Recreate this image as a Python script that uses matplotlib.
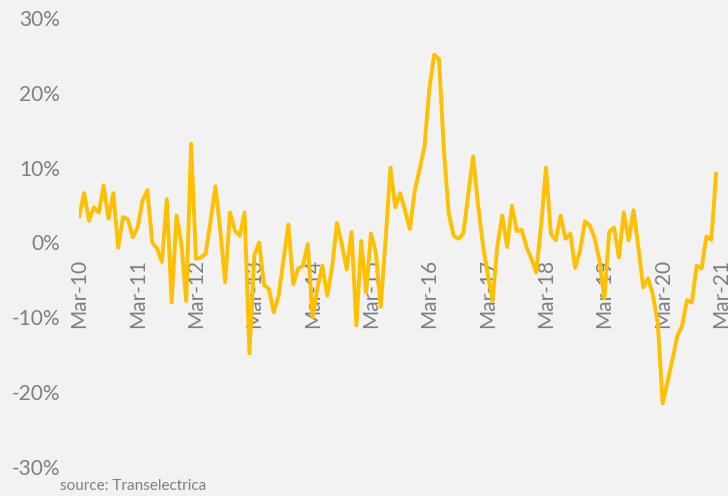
import matplotlib
matplotlib.use("Agg")
import matplotlib.pyplot as plt
import pandas as pd

# Monthly change (%), Mar-2010 .. Feb-2021
values = [
    3.5, 6.6, 2.9, 4.7, 4.0, 7.6, 3.2, 6.6, -0.7, 3.4, 3.1, 0.7,
    2.0, 5.6, 7.0, 0.0, -0.8, -2.6, 5.8, -8.0, 3.6, -0.2, -7.8, 13.2,
    -2.2, -2.0, -1.5, 2.9, 7.5, 1.6, -5.3, 4.0, 1.6, 0.9, 4.0, -14.8,
    -1.7, 0.0, -5.7, -6.2, -9.3, -7.1, -2.4, 2.4, -5.6, -3.5, -3.1, -0.2,
    -10.0, -6.0, -3.1, -7.1, -3.3, 2.6, -0.2, -3.6, 1.4, -11.1, 0.2, -6.7,
    1.2, -1.3, -8.6, 0.3, 10.0, 4.7, 6.6, 4.3, 1.8, 6.9, 9.8, 12.8,
    20.5, 25.1, 24.5, 12.3, 3.9, 0.9, 0.5, 1.2, 6.3, 11.5, 5.2, -0.2,
    -4.2, -7.8, -0.4, 3.6, -0.6, 4.9, 1.5, 1.7, -0.6, -2.2, -4.0, 2.3,
    10.0, 1.2, 0.3, 3.6, 0.5, 1.2, -3.4, -1.1, 2.8, 2.3, 0.6, -2.4,
    -7.5, 1.4, 2.0, -2.0, 4.0, 0.3, 4.3, -0.6, -6.0, -4.8, -7.0, -10.8,
    -21.5, -18.6, -15.7, -12.5, -11.1, -7.7, -8.0, -3.1, -3.5, 0.8, 0.4, 9.2,
]
months = pd.date_range("2010-03-01", periods=len(values), freq="MS")
tick_dates = pd.date_range("2010-03-01", "2021-03-01", freq="12MS")
tick_labels = [d.strftime("%b-%y") for d in tick_dates]
y_ticks = [-30, -20, -10, 0, 10, 20, 30]
y_labels = [f"{v}%" for v in y_ticks]

BG = "#f2f2f2"
GOLD = "#FFC000"
GRAY = "#7f7f7f"

plt.rcParams["font.family"] = ["Lato", "DejaVu Sans"]

fig = plt.figure(figsize=(7.28, 4.96), dpi=100, facecolor=BG)
ax = fig.add_axes([79.3 / 728, 1 - 467 / 496, (721 - 79.3) / 728, (467 - 18) / 496])
ax.set_facecolor(BG)

# month index positions (Excel date axis spaces months evenly)
start = months[0]
def midx(d):
    return (d.year - start.year) * 12 + (d.month - start.month)

x = [midx(d) for d in months]
ax.plot(x, values, color=GOLD, lw=2.8, zorder=3)

for s in ax.spines.values():
    s.set_visible(False)
ax.spines["bottom"].set_position(("data", 0))

ax.set_xlim(0, midx(tick_dates[-1]))
ax.set_ylim(-30, 30)
ax.set_yticks(y_ticks)
ax.set_yticklabels(y_labels)
ax.set_xticks([midx(d) for d in tick_dates])
ax.set_xticklabels(tick_labels)
ax.tick_params(axis="both", length=0, colors=GRAY, labelsize=15)
ax.tick_params(axis="x", pad=12)
ax.tick_params(axis="y", pad=14)
for lab in ax.get_xticklabels():
    lab.set_rotation(90)
    lab.set_va("top")
    lab.set_ha("center")

fig.text(60 / 728, 1 - 486 / 496, "source: Transelectrica", color=GRAY,
         fontsize=11, ha="left", va="center")

fig.savefig("out.png", dpi=100, facecolor=BG)
